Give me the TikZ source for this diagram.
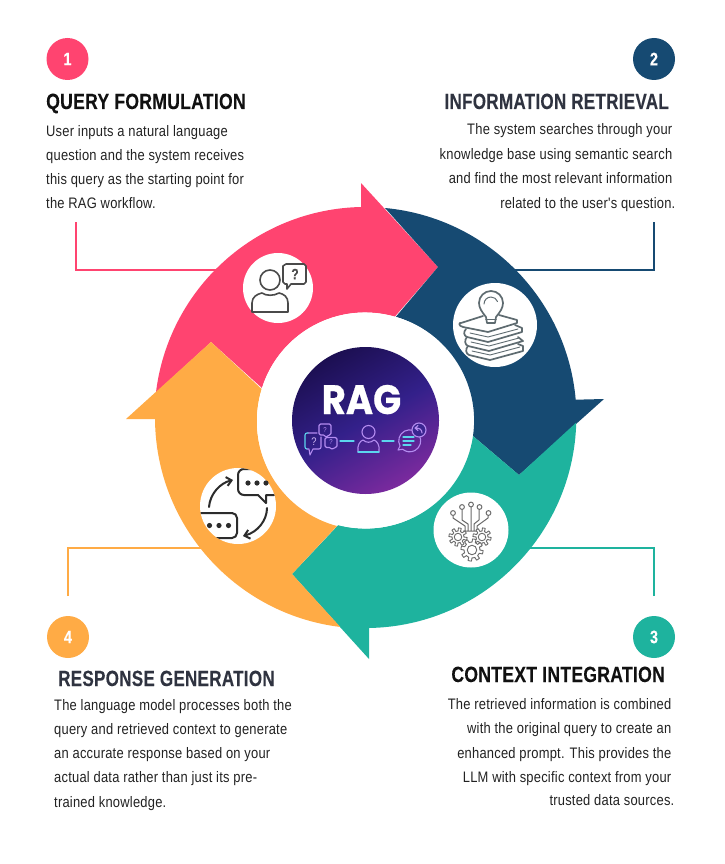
\documentclass[tikz,border=0pt]{standalone}
\usepackage{fontspec}
\usepackage{graphicx}
\setmainfont{Liberation Sans}
\newfontfamily\bodyf[FakeStretch=0.85,LetterSpace=1.5]{Liberation Sans}
\newfontfamily\titlef[FakeStretch=0.8,LetterSpace=1.2,FakeBold=0.15]{Liberation Sans Bold}
\newfontfamily\ragf[FakeBold=0.6,FakeStretch=0.9]{Poppins Bold}
\usetikzlibrary{arrows.meta}
\definecolor{cpink}{HTML}{FF4470}
\definecolor{cblue}{HTML}{164A72}
\definecolor{cteal}{HTML}{1EB39E}
\definecolor{corange}{HTML}{FFAB45}
\definecolor{cdark}{HTML}{2F3340}
\definecolor{cblack}{HTML}{111111}
\definecolor{ctext}{HTML}{222222}
\definecolor{cicon}{HTML}{4A4A4A}
\definecolor{cchat}{HTML}{2C2C2C}
\definecolor{cbook}{HTML}{5E6B70}
\definecolor{cgear}{HTML}{6A6A6A}
\definecolor{cvio}{HTML}{B48CF0}
\definecolor{ccyan}{HTML}{5CD6EE}
\definecolor{ragtop}{HTML}{1C0F52}
\definecolor{ragmid}{HTML}{33208A}
\definecolor{ragbot}{HTML}{7B2A9E}
\definecolor{ragbg}{HTML}{3A2590}
\tikzset{
  x=1pt,y=-1pt,
  bodyl/.style={anchor=base west,inner sep=0pt,font=\bodyf\fontsize{15.2}{17}\selectfont,text=ctext},
  bodyr/.style={anchor=base east,inner sep=0pt,font=\bodyf\fontsize{15.2}{17}\selectfont,text=ctext},
  titlel/.style={anchor=base west,inner sep=0pt,font=\titlef\fontsize{22}{24}\selectfont},
  titler/.style={anchor=base east,inner sep=0pt,font=\titlef\fontsize{22}{24}\selectfont},
  numdot/.style={circle,minimum size=42pt,inner sep=0pt,text=white,font=\titlef\fontsize{18}{20}\selectfont},
  iconback/.style={circle,fill=white,inner sep=0pt},
  leader/.style={line width=1.4pt},
  iconline/.style={draw=cicon,line width=1.6pt,line join=round,line cap=round},
  bookline/.style={draw=cbook,line width=1.7pt,line join=round,line cap=round},
  chatline/.style={draw=cchat,line width=2pt,line join=round,line cap=round},
  neon/.style={draw=cvio,line width=1.1pt,line join=round,line cap=round},
  neonc/.style={draw=ccyan,line width=1.1pt,line join=round,line cap=round},
}
% gear outline: centre x, centre y, body radius
\newcommand{\gearshape}[3]{%
  \draw[cgear,fill=white,line width=.9pt,line join=round] plot[domain=0:357,samples=120]
    ({#1+(#3+1.6*(sin(8*\x)>0?1:-1))*cos(\x)},{#2+(#3+1.6*(sin(8*\x)>0?1:-1))*sin(\x)}) -- cycle;
  \draw[cgear,line width=.9pt] (#1,#2) circle[radius=0.5*#3pt];
}
\begin{document}
\begin{tikzpicture}
\useasboundingbox (0,0) rectangle (724,864);
% leader lines
\coordinate (l1a) at (76,222); \coordinate (l1b) at (76,270); \coordinate (l1c) at (225,270);
\coordinate (l2a) at (654,222); \coordinate (l2b) at (654,270); \coordinate (l2c) at (505,270);
\coordinate (l3a) at (654,596); \coordinate (l3b) at (654,548); \coordinate (l3c) at (520,548);
\coordinate (l4a) at (68,596); \coordinate (l4b) at (68,548); \coordinate (l4c) at (210,548);
\draw[leader,cpink] (l1a) -- (l1b) -- (l1c);
\draw[leader,cblue] (l2a) -- (l2b) -- (l2c);
\draw[leader,cteal] (l3a) -- (l3b) -- (l3c);
\draw[leader,corange] (l4a) -- (l4b) -- (l4c);
% ring arrows
\fill[cpink] (361,183) -- (361,207) arc[start angle=91.2,end angle=173.1,radius=211pt]
  -- (211,342) -- (262,388) arc[start angle=162.5,end angle=74,radius=108pt] -- (438,267) -- cycle;
\fill[cblue] (385,208) arc[start angle=84.7,end angle=5,radius=211pt]
  -- (604,399) -- (519,475) -- (473,436) arc[start angle=-8.2,end angle=74,radius=108pt] -- (438,267) -- cycle;
\fill[cteal] (369,659) -- (369,628) arc[start angle=-89,end angle=-1.5,radius=211pt]
  -- (519,475) -- (473,436) arc[start angle=-8.2,end angle=-104.9,radius=108pt] -- (292,574) -- cycle;
\fill[corange] (126,419) -- (155,419) arc[start angle=180.4,end angle=263,radius=211pt]
  -- (292,574) -- (337,526) arc[start angle=255.1,end angle=162.5,radius=108pt] -- (211,342) -- cycle;
% centre
\node[circle,fill=white,minimum size=216pt,inner sep=0pt] (hub) at (365,420.5) {};
\shade[top color=ragtop,bottom color=ragbot,middle color=ragmid,shading angle=30] (365.5,420.5) circle[radius=73.5pt];
\node[anchor=base,inner sep=0pt,text=white,font=\ragf\fontsize{41}{44}\selectfont] (rag) at (361.5,414) {RAG};
% RAG small icons
\draw[neon] (308,433) -- (317,433) (321,437) -- (321,447) arc[start angle=0,end angle=-90,radius=2pt] -- (313,449) -- (310,455) -- (309,449) -- (307,449);
\draw[neonc] (307,449) arc[start angle=-90,end angle=-180,radius=2pt] -- (305,435) arc[start angle=180,end angle=90,radius=2pt] -- (308,433);
\node[inner sep=0pt,text=cvio!60!white,font=\bodyf\fontsize{11}{11}\selectfont] (q1) at (314,442) {?};
\draw[neon,rounded corners=1.5pt] (319,424) -- (331,424) -- (331,435) -- (328,435) -- (326,438) -- (325,435) -- (319,435) -- cycle;
\node[inner sep=0pt,text=cvio,font=\bodyf\fontsize{7}{7}\selectfont] (q2) at (325,430) {?};
\draw[neon,rounded corners=1.5pt] (325,437.5) -- (337,437.5) -- (337,447.5) -- (334,447.5) -- (332,450) -- (331,447.5) -- (325,447.5) -- cycle;
\node[inner sep=0pt,text=cvio,font=\bodyf\fontsize{7}{7}\selectfont] (q3) at (331,442.5) {?};
\draw[neonc] (340,441) -- (354,441);
\draw[neon] (368.5,432) circle[radius=6.5pt];
\draw[neon] (358,452) .. controls (357,445) and (360,441) .. (363,440) .. controls (366,443) and (371,443) .. (374,440) .. controls (377,441) and (380,445) .. (379,452) -- cycle;
\draw[neonc] (358,452) -- (379,452);
\draw[neonc] (382,441) -- (394,441);
\draw[neon] (398,450) -- (400,446) arc[start angle=208,end angle=-130,radius=11pt] -- cycle;
\draw[neonc] (403,437) -- (414,437) (403,441) -- (414,441) (403,445) -- (411,445);
\draw[neon,fill=ragbg] (419,430) circle[radius=7pt];
\draw[neon] (422,433) .. controls (422,429) and (419,428) .. (415,428) (418,425.5) -- (415,428) -- (418,430.5);
% icon: user question
\node[iconback,minimum size=70pt] (ic1) at (278,288) {};
\draw[iconline] (270,280) circle[radius=10pt];
\draw[iconline] (252,312) -- (252,303) .. controls (252,297) and (257,294) .. (262,293) .. controls (266,296) and (274,296) .. (279,293) .. controls (284,294) and (288,297) .. (288,303) -- (288,312) -- cycle;
\draw[iconline] (286,264) -- (304,264) -- (306,266) -- (306,282) -- (304,284) -- (291,284) -- (287,289) -- (287,284) -- (285,284) -- (283,282) -- (283,266) -- cycle;
\node[inner sep=0pt,text=cicon,font=\titlef\fontsize{15}{15}\selectfont] (icq) at (295,274) {?};
% icon: books and bulb
\node[iconback,minimum size=84pt] (ic2) at (495,325) {};
\draw[bookline] (486,317) .. controls (482,312) and (479,308) .. (479,303) arc[start angle=180,end angle=0,radius=12pt] .. controls (503,308) and (500,312) .. (496,317) -- (495,323) -- (487,323) -- cycle;
\draw[bookline,line width=1pt] (484,304) arc[start angle=180,end angle=20,radius=7pt];
\draw[bookline] (486,319.5) -- (496,319.5);
\draw[bookline] (461,323) -- (483,316) (499,315) -- (517,320) -- (517,323) -- (488,332) -- (463,327) .. controls (458,326) and (459,322) .. (461,323);
\draw[bookline] (466,329) .. controls (463,332) and (464,336) .. (467,337) -- (488,342) -- (522,332) (515,325) -- (522,328) -- (522,332);
\draw[bookline] (467,337) .. controls (464,340) and (465,345) .. (468,346) -- (489,351) -- (523,341) -- (518,337);
\draw[bookline] (468,346) .. controls (465,349) and (466,354) .. (469,355) -- (490,360) -- (523,351) -- (523,346) -- (518,344);
\draw[bookline,line width=.9pt] (470,333) -- (488,337) -- (518,329) (471,342) -- (489,346) -- (519,338) (472,351) -- (490,355) -- (520,347);
% icon: gears and tree
\node[iconback,minimum size=75pt] (ic3) at (471,530) {};
\draw[cgear,line width=1pt,line join=round] (453,515) -- (453,518) -- (465,526) -- (465,531) (462,509) -- (462,520) -- (468,524) -- (468,531) (471,506) -- (471,531) (479,509) -- (479,520) -- (474,524) -- (474,531) (488,515) -- (488,518) -- (477,526) -- (477,531) (463,531) -- (479,531);
\foreach \px/\py in {453/513,462/507,471/504.5,479.5/507,488.5/513}
  \draw[cgear,fill=white,line width=1pt] (\px,\py) circle[radius=2.4pt];
\gearshape{458}{537}{7.5}
\gearshape{482}{537}{7.5}
\gearshape{472}{550}{9.5}
% icon: chat cycle
\node[iconback,minimum size=76pt] (ic4) at (238,506) {};
\begin{scope}
\clip (238,506) circle[radius=38pt];
\draw[chatline] (244,469) -- (280,469) -- (280,490) -- (274,495) -- (266,495) -- (266,503) -- (258,495) -- (244,495) arc[start angle=-90,end angle=-180,radius=6pt] -- (238,475) arc[start angle=180,end angle=90,radius=6pt] -- cycle;
\draw[chatline] (198,513) -- (232,513) arc[start angle=90,end angle=0,radius=5pt] -- (237,533) arc[start angle=0,end angle=-90,radius=5pt] -- (198,538);
\end{scope}
\fill[cchat] (248,483) circle[radius=2.6pt] (257,483) circle[radius=2.6pt] (266,483) circle[radius=2.6pt]
  (209.5,525.5) circle[radius=2.6pt] (219,525.5) circle[radius=2.6pt] (228.5,525.5) circle[radius=2.6pt];
\draw[chatline,-{Straight Barb[length=5pt,width=9pt]}] (209,507) .. controls (210,494) and (220,483) .. (233,480);
\draw[chatline,-{Straight Barb[length=5pt,width=9pt]}] (267,508) .. controls (267,520) and (258,532) .. (243,536);
% number badges
\node[numdot,fill=cpink] (n1) at (67.5,59) {1};
\node[numdot,fill=cblue] (n2) at (654,59) {2};
\node[numdot,fill=cteal] (n3) at (654,637) {3};
\node[numdot,fill=corange] (n4) at (68,637) {4};
% titles
\node[titlel,text=cblack] (t1) at (46,109) {QUERY FORMULATION};
\node[titler,text=cdark] (t2) at (669,109) {\scalebox{.97}[1]{INFORMATION RETRIEVAL}};
\node[titler,text=cblack] (t3) at (665,682) {\scalebox{1.0}[1]{CONTEXT INTEGRATION}};
\node[titlel,text=cdark] (t4) at (58,686) {\scalebox{.97}[1]{RESPONSE GENERATION}};
% body 1
\node[bodyl] (a1) at (46,136) {User inputs a natural language};
\node[bodyl] (a2) at (46,160) {question and the system receives};
\node[bodyl] (a3) at (46,184) {this query as the starting point for};
\node[bodyl] (a4) at (46,208) {the RAG workflow.};
% body 2
\node[bodyr] (b1) at (672.5,135) {The system searches through your};
\node[bodyr] (b2) at (672.5,159) {knowledge base using semantic search};
\node[bodyr] (b3) at (672.5,183) {and find the most relevant information};
\node[bodyr] (b4) at (675.5,208) {related to the user's question.};
% body 3
\node[bodyr] (c1) at (671.5,709) {The retrieved information is combined};
\node[bodyr] (c2) at (671.5,733) {with the original query to create an};
\node[bodyr] (c3) at (671.5,758) {enhanced prompt. This provides the};
\node[bodyr] (c4) at (671.5,782) {LLM with specific context from your};
\node[bodyr] (c5) at (674.5,805) {trusted data sources.};
% body 4
\node[bodyl] (d1) at (54,710) {The language model processes both the};
\node[bodyl] (d2) at (54,734) {query and retrieved context to generate};
\node[bodyl] (d3) at (54,758) {an accurate response based on your};
\node[bodyl] (d4) at (54,782) {actual data rather than just its pre-};
\node[bodyl] (d5) at (54,807) {trained knowledge.};
\end{tikzpicture}
\end{document}
